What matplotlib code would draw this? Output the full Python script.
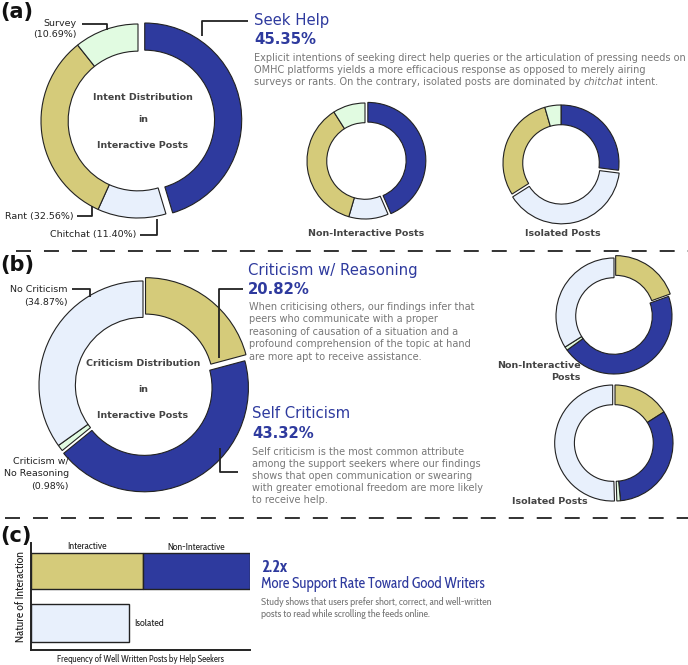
import matplotlib
matplotlib.use('Agg')
import matplotlib.pyplot as plt
from matplotlib import font_manager
from matplotlib.font_manager import FontProperties

# ---------------- data ----------------
intent_labels = ['Seek Help', 'Chitchat', 'Rant', 'Survey']
intent_interactive = [45.35, 11.40, 32.56, 10.69]
intent_noninteractive = [43.5, 11.0, 36.5, 9.0]
intent_isolated = [27.0, 39.0, 29.5, 4.5]

crit_labels = ['Criticism w/ Reasoning', 'Self Criticism', 'Criticism w/ No Reasoning', 'No Criticism']
crit_interactive = [20.82, 43.32, 0.98, 34.87]
crit_noninteractive = [19.5, 45.5, 1.0, 34.0]
crit_isolated = [16.0, 32.5, 1.0, 50.5]

bar_categories = ['Interactive', 'Non-Interactive', 'Isolated']
bar_values = [112, 107, 98]

# ---------------- style ----------------
BLUE = '#2E3A9E'
KHAKI = '#D5CB7A'
LBLUE = '#E8F0FC'
LGREEN = '#E1FBE1'
EDGE = '#222222'
GRAY = '#777777'
DARK = '#444444'
intent_colors = [BLUE, LBLUE, KHAKI, LGREEN]
crit_colors = [KHAKI, BLUE, LGREEN, LBLUE]

# narrow font for panel (c)
avail = {f.name for f in font_manager.fontManager.ttflist}
NARROW = 'DejaVu Sans'
for cand in ['Liberation Sans Narrow', 'Cabin Condensed', 'Asap Condensed',
             'Barlow Semi Condensed', 'Archivo Narrow']:
    if cand in avail:
        NARROW = cand
        break


def nfp(bold=False, size=7):
    return FontProperties(family=[NARROW, 'DejaVu Sans'], weight='bold' if bold else 'normal', size=size)


W, H = 688, 665
fig = plt.figure(figsize=(W / 100, H / 100), dpi=100)
renderer = fig.canvas.get_renderer()


def fit(t, target, use_height=False):
    """Scale a text's font size so that its extent matches the target pixels."""
    bb = t.get_window_extent(renderer=renderer)
    w = bb.height if use_height else bb.width
    if w > 0:
        t.set_fontsize(t.get_fontsize() * target / w)
    return t


def donut(cx, cy, r, values, colors, width, explode, lim=1.3):
    size = 2 * lim * r
    ax = fig.add_axes([(cx - size / 2) / W, 1 - (cy + size / 2) / H, size / W, size / H])
    ax.pie(values, colors=colors, startangle=90, counterclock=False, explode=explode,
           radius=1.0, wedgeprops=dict(width=width, edgecolor=EDGE, linewidth=0.8))
    ax.set_xlim(-lim, lim)
    ax.set_ylim(-lim, lim)
    ax.set_aspect('equal')
    ax.axis('off')
    return ax


# (a) donuts
donut(138, 121, 97, intent_interactive, intent_colors, 0.28, [0.07, 0, 0, 0])
donut(365, 161, 58, intent_noninteractive, intent_colors, 0.34, [0.05, 0, 0, 0])
donut(561, 163, 58, intent_isolated, intent_colors, 0.34, [0, 0.05, 0, 0])

# (b) donuts
donut(143, 385, 104, crit_interactive, crit_colors, 0.35, [0.04, 0.03, 0, 0])
donut(614, 316, 58, crit_noninteractive, crit_colors, 0.34, [0.05, 0, 0, 0])
donut(615, 443, 58, crit_isolated, crit_colors, 0.34, [0, 0, 0, 0.04])

# (c) bar chart
bx0, bx1, by0, by1 = 31, 250, 543, 650
bax = fig.add_axes([bx0 / W, 1 - by1 / H, (bx1 - bx0) / W, (by1 - by0) / H])
bax.barh(0.74, bar_values[0], left=0, height=0.34, color=KHAKI, edgecolor=EDGE, linewidth=1.0)
bax.barh(0.74, bar_values[1], left=bar_values[0], height=0.34, color=BLUE, edgecolor=EDGE, linewidth=1.0)
bax.barh(0.25, bar_values[2], left=0, height=0.355, color=LBLUE, edgecolor=EDGE, linewidth=1.0)
bax.set_xlim(0, bar_values[0] + bar_values[1])
bax.set_ylim(0, 1)
for s in ['top', 'right']:
    bax.spines[s].set_visible(False)
for s in ['left', 'bottom']:
    bax.spines[s].set_linewidth(1.4)
    bax.spines[s].set_color(EDGE)
bax.set_xticks([])
bax.set_yticks([])
bax.patch.set_alpha(0)
fit(bax.text(bar_values[0] / 2, 0.965, bar_categories[0], ha='center', va='center',
             color='#222', fontproperties=nfp()), 40)
fit(bax.text(bar_values[0] + bar_values[1] / 2, 0.965, bar_categories[1], ha='center', va='center',
             color='#222', fontproperties=nfp()), 58)
fit(bax.text(bar_values[2] + 5, 0.245, bar_categories[2], ha='left', va='center',
             color='#222', fontproperties=nfp()), 30)
xl = bax.set_xlabel('Frequency of Well Written Posts by Help Seekers', color='#222',
                    labelpad=3, fontproperties=nfp())
fit(xl, 168)
yl = bax.set_ylabel('Nature of Interaction', color='#222', labelpad=3, fontproperties=nfp())
fit(yl, 92, use_height=True)

# ---------------- overlay (pixel coordinates) ----------------
ov = fig.add_axes([0, 0, 1, 1], zorder=10)
ov.set_xlim(0, W)
ov.set_ylim(H, 0)
ov.axis('off')
ov.patch.set_alpha(0)


def T(x, y, s, size=7.0, color=GRAY, weight='normal', ha='left', style='normal', fp=None):
    if fp is not None:
        return ov.text(x, y, s, color=color, ha=ha, va='center', fontproperties=fp)
    return ov.text(x, y, s, fontsize=size, color=color, fontweight=weight, ha=ha, va='center',
                   family='DejaVu Sans', style=style)


def L(xs, ys, lw=1.3, **kw):
    ov.plot(xs, ys, color=EDGE, lw=lw, solid_capstyle='butt', **kw)


# panel letters
T(0, 12, '(a)', size=15, color='#111', weight='bold')
T(0, 265, '(b)', size=15, color='#111', weight='bold')
T(0, 536, '(c)', size=15, color='#111', weight='bold')

# separators
L([16, 688], [251, 251], lw=1.3, ls=(0, (8.3, 7.2)))
L([5, 688], [518, 518], lw=1.3, ls=(0, (8.3, 7.2)))

HS = 10.7  # heading size

# (a) labels
T(77, 23, 'Survey', size=6.8, color='#222', ha='right')
T(77, 35, '(10.69%)', size=6.8, color='#222', ha='right')
L([82, 107, 107], [24, 24, 30])
T(74, 216, 'Rant (32.56%)', size=6.8, color='#222', ha='right')
L([77, 92, 92], [216, 216, 206])
T(136, 235, 'Chitchat (11.40%)', size=6.8, color='#222', ha='right')
L([140, 157, 157], [235, 235, 219])
L([202, 202, 248], [36, 21, 21])

T(143, 97, 'Intent Distribution', size=6.8, color=DARK, weight='bold', ha='center')
T(143, 120, 'in', size=6.8, color=DARK, weight='bold', ha='center')
T(143, 145, 'Interactive Posts', size=6.8, color=DARK, weight='bold', ha='center')

T(254, 21, 'Seek Help', size=HS, color=BLUE)
T(254, 39, '45.35%', size=HS, color=BLUE, weight='bold')
T(254, 58, 'Explicit intentions of seeking direct help queries or the articulation of pressing needs on')
T(254, 70, 'OMHC platforms yields a more efficacious response as opposed to merely airing')
t1 = T(254, 82, 'surveys or rants. On the contrary, isolated posts are dominated by ')
x1 = t1.get_window_extent(renderer=renderer).x1
t2 = T(x1, 82, 'chitchat', style='italic')
x2 = t2.get_window_extent(renderer=renderer).x1
T(x2, 82, ' intent.')

T(366, 233, 'Non-Interactive Posts', size=6.8, color=DARK, weight='bold', ha='center')
T(563, 233, 'Isolated Posts', size=6.8, color=DARK, weight='bold', ha='center')

# (b) labels
T(68, 289, 'No Criticism', size=6.8, color='#222', ha='right')
T(68, 303, '(34.87%)', size=6.8, color='#222', ha='right')
L([72, 90, 90], [289, 289, 297])
T(69, 461, 'Criticism w/', size=6.8, color='#222', ha='right')
T(69, 473, 'No Reasoning', size=6.8, color='#222', ha='right')
T(69, 486, '(0.98%)', size=6.8, color='#222', ha='right')
L([219, 219, 243], [358, 289, 289])
L([220, 220, 238], [448, 472, 472])

T(143, 364, 'Criticism Distribution', size=6.8, color=DARK, weight='bold', ha='center')
T(143, 390, 'in', size=6.8, color=DARK, weight='bold', ha='center')
T(143, 416, 'Interactive Posts', size=6.8, color=DARK, weight='bold', ha='center')

T(248, 270, 'Criticism w/ Reasoning', size=HS, color=BLUE)
T(248, 289, '20.82%', size=HS, color=BLUE, weight='bold')
desc_b1 = ['When criticising others, our findings infer that',
           'peers who communicate with a proper',
           'reasoning of causation of a situation and a',
           'profound comprehension of the topic at hand',
           'are more apt to receive assistance.']
for i, s in enumerate(desc_b1):
    T(249, 307 + 12.4 * i, s)

T(252, 414, 'Self Criticism', size=HS, color=BLUE)
T(252, 433, '43.32%', size=HS, color=BLUE, weight='bold')
desc_b2 = ['Self criticism is the most common attribute',
           'among the support seekers where our findings',
           'shows that open communication or swearing',
           'with greater emotional freedom are more likely',
           'to receive help.']
for i, s in enumerate(desc_b2):
    T(252, 452 + 12.1 * i, s)

T(581, 366, 'Non-Interactive', size=6.8, color=DARK, weight='bold', ha='right')
T(581, 377, 'Posts', size=6.8, color=DARK, weight='bold', ha='right')
T(588, 501, 'Isolated Posts', size=6.8, color=DARK, weight='bold', ha='right')

# (c) texts
fit(T(261, 567, '2.2x', color=BLUE, fp=nfp(bold=True, size=11)), 26)
fit(T(261, 584, 'More Support Rate Toward Good Writers', color=BLUE, fp=nfp(size=11)), 224)
d1 = fit(T(261, 602, 'Study shows that users prefer short, correct, and well-written', fp=nfp(size=7)), 231)
T(261, 614, 'posts to read while scrolling the feeds online.', fp=nfp(size=d1.get_fontsize()))

fig.savefig('out.png', dpi=100)
